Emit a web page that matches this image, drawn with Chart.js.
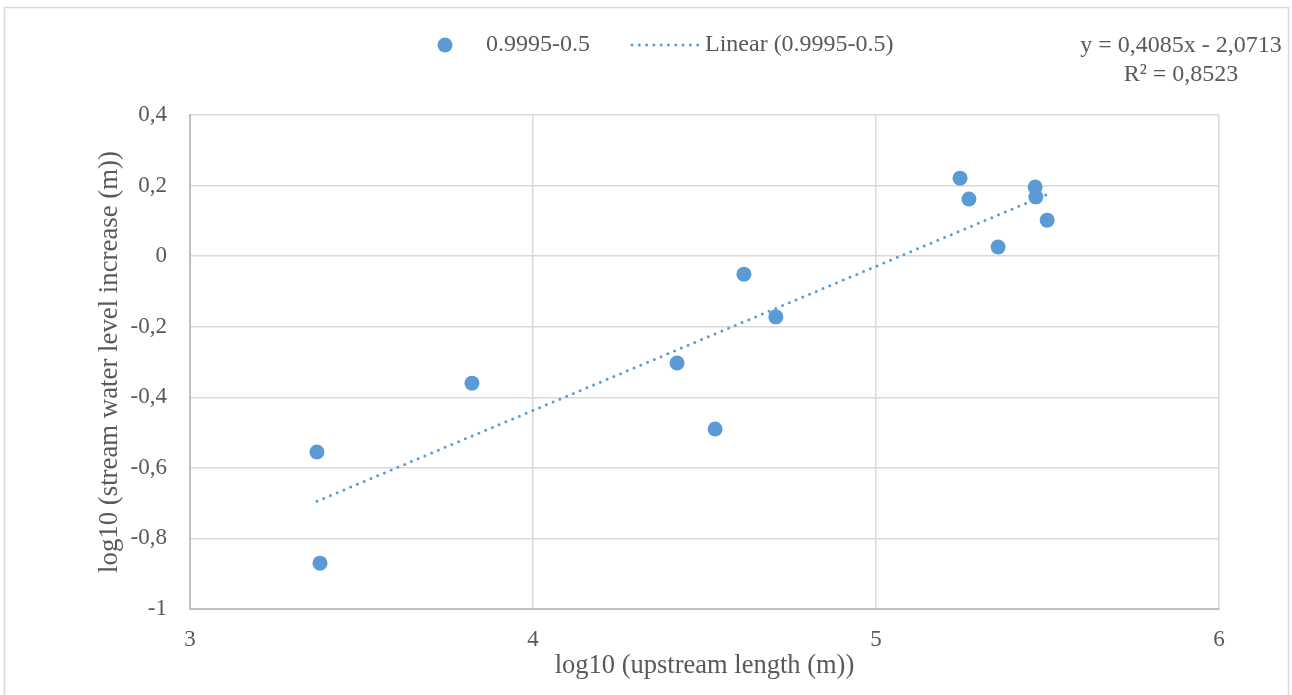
<!DOCTYPE html>
<html>
<head>
<meta charset="utf-8">
<script src="https://cdn.jsdelivr.net/npm/chart.js@4/dist/chart.umd.min.js"></script>
<style>
  html, body { margin: 0; padding: 0; background: #ffffff; overflow: hidden; }
  #wrap { width: 1292px; height: 695px; position: relative; }
</style>
</head>
<body>
<div id="wrap"><canvas id="c" width="1292" height="695"></canvas></div>
<script>
// Series: log10 of upstream length vs log10 of stream water level increase
const seriesName = '0.9995-0.5';
const upstreamLength = [3.370, 3.379, 3.822, 4.420, 4.531, 4.615, 4.708, 5.245, 5.271, 5.356, 5.464, 5.466, 5.499];
const waterLevelIncrease = [-0.555, -0.870, -0.360, -0.303, -0.490, -0.051, -0.172, 0.221, 0.162, 0.026, 0.196, 0.168, 0.102];

// Linear trendline coefficients
const trendSlope = 0.4085;
const trendIntercept = -2.0713;
const trendR2 = 0.8523;

// Axis ticks
const xTicks = [3, 4, 5, 6];
const yTicks = [-1, -0.8, -0.6, -0.4, -0.2, 0, 0.2, 0.4];

const xTitle = 'log10 (upstream length (m))';
const yTitle = 'log10 (stream water level increase (m))';

const BLUE = '#5B9BD5';
const TEXT = '#595959';
const FONT = '"Liberation Serif", "Times New Roman", serif';

// Decimal comma formatting
const fmt = v => String(Number(v.toFixed(4))).replace('.', ',');

const points = upstreamLength.map((x, i) => ({ x: x, y: waterLevelIncrease[i] }));
const xMin = Math.min(...upstreamLength);
const xMax = Math.max(...upstreamLength);
const trendPoints = [xMin, xMax].map(x => ({ x: x, y: trendSlope * x + trendIntercept }));

const equationText = 'y = ' + fmt(trendSlope) + 'x ' + (trendIntercept < 0 ? '- ' : '+ ') + fmt(Math.abs(trendIntercept));
const r2Text = 'R\u00B2 = ' + fmt(trendR2);

// Frame, legend and trendline equation
const decorations = {
  id: 'decorations',
  beforeDraw(chart) {
    const ctx = chart.ctx;
    ctx.save();
    ctx.fillStyle = '#ffffff';
    ctx.fillRect(0, 0, chart.width, chart.height);
    ctx.strokeStyle = '#D9D9D9';
    ctx.lineWidth = 1.5;
    ctx.strokeRect(4.5, 7.5, 1284, 720);
    ctx.restore();
  },
  afterDraw(chart) {
    const ctx = chart.ctx;
    ctx.save();
    // legend: marker
    ctx.fillStyle = BLUE;
    ctx.beginPath();
    ctx.arc(445, 45, 7.5, 0, Math.PI * 2);
    ctx.fill();
    ctx.fillStyle = TEXT;
    ctx.font = '24px ' + FONT;
    ctx.textBaseline = 'middle';
    ctx.textAlign = 'left';
    ctx.fillText(seriesName, 486, 45);
    // legend: dotted trendline
    ctx.strokeStyle = BLUE;
    ctx.lineWidth = 3;
    ctx.lineCap = 'round';
    ctx.setLineDash([0, 7.3]);
    ctx.beginPath();
    ctx.moveTo(632, 45);
    ctx.lineTo(700, 45);
    ctx.stroke();
    ctx.setLineDash([]);
    ctx.fillText('Linear (' + seriesName + ')', 705, 45);
    // trendline equation
    ctx.font = '24px ' + FONT;
    ctx.textAlign = 'center';
    ctx.fillText(equationText, 1181, 46);
    ctx.fillText(r2Text, 1181, 75);
    ctx.restore();
  }
};

new Chart(document.getElementById('c'), {
  type: 'scatter',
  data: {
    datasets: [
      {
        label: seriesName,
        data: points,
        backgroundColor: BLUE,
        borderColor: BLUE,
        borderWidth: 0,
        pointRadius: 7.5,
        pointHoverRadius: 7.5,
        order: 1
      },
      {
        label: 'Linear (' + seriesName + ')',
        type: 'line',
        data: trendPoints,
        borderColor: BLUE,
        borderWidth: 3,
        borderDash: [0, 7.32],
        borderCapStyle: 'round',
        pointRadius: 0,
        fill: false,
        order: 2
      }
    ]
  },
  options: {
    responsive: false,
    animation: false,
    devicePixelRatio: 1,
    layout: { padding: { left: 0, right: 73, top: 115, bottom: 0 } },
    plugins: {
      legend: { display: false },
      tooltip: { enabled: false }
    },
    scales: {
      x: {
        type: 'linear',
        min: 3,
        max: 6,
        afterBuildTicks: s => { s.ticks = xTicks.map(v => ({ value: v })); },
        afterFit: s => { s.height = 86; },
        ticks: {
          color: TEXT,
          font: { family: FONT, size: 23 },
          padding: 17,
          callback: v => fmt(v)
        },
        grid: { color: '#D9D9D9', lineWidth: 1.5, drawTicks: false },
        border: { color: '#BFBFBF', width: 2 },
        title: {
          display: true,
          text: xTitle,
          color: TEXT,
          font: { family: FONT, size: 26.5 },
          padding: { top: 0, bottom: 13 }
        }
      },
      y: {
        type: 'linear',
        min: -1,
        max: 0.4,
        afterBuildTicks: s => { s.ticks = yTicks.map(v => ({ value: v })); },
        afterFit: s => { s.width = 190; },
        ticks: {
          color: TEXT,
          font: { family: FONT, size: 23 },
          padding: 23,
          callback: v => fmt(v)
        },
        grid: { color: '#D9D9D9', lineWidth: 1.5, drawTicks: false },
        border: { color: '#BFBFBF', width: 2 },
        title: {
          display: true,
          text: yTitle,
          color: TEXT,
          font: { family: FONT, size: 26.8 },
          padding: { top: 94, bottom: 0 }
        }
      }
    }
  },
  plugins: [decorations]
});
</script>
</body>
</html>
